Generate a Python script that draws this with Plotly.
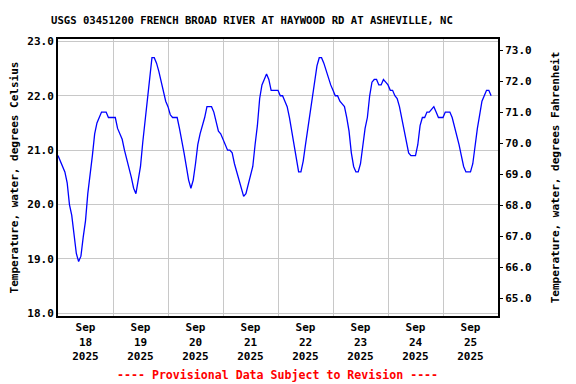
import pandas as pd
import plotly.graph_objects as go

# Hourly water temperature readings (degrees Celsius)
sep18 = [20.9, 20.8, 20.7, 20.6, 20.4, 20.0, 19.8, 19.4, 19.1, 18.95, 19.05, 19.4,
         19.7, 20.2, 20.5, 20.9, 21.3, 21.5, 21.6, 21.7, 21.7, 21.7, 21.6, 21.6]
sep19 = [21.6, 21.6, 21.4, 21.3, 21.2, 21.0, 20.85, 20.7, 20.5, 20.3, 20.2, 20.45,
         20.7, 21.15, 21.55, 21.95, 22.4, 22.7, 22.7, 22.6, 22.45, 22.25, 22.1, 21.9]
sep20 = [21.8, 21.65, 21.6, 21.6, 21.6, 21.4, 21.2, 20.95, 20.7, 20.45, 20.3, 20.45,
         20.75, 21.1, 21.3, 21.45, 21.6, 21.8, 21.8, 21.8, 21.7, 21.5, 21.35, 21.3]
sep21 = [21.2, 21.1, 21.0, 21.0, 20.95, 20.75, 20.6, 20.45, 20.25, 20.15, 20.2, 20.35,
         20.5, 20.7, 21.1, 21.45, 21.95, 22.2, 22.3, 22.4, 22.3, 22.1, 22.1, 22.1]
sep22 = [22.1, 22.0, 22.0, 21.9, 21.8, 21.6, 21.35, 21.1, 20.8, 20.6, 20.6, 20.8,
         21.1, 21.4, 21.65, 22.0, 22.3, 22.55, 22.7, 22.7, 22.6, 22.45, 22.3, 22.2]
sep23 = [22.1, 22.0, 22.0, 21.9, 21.85, 21.8, 21.6, 21.35, 20.95, 20.7, 20.6, 20.6,
         20.75, 21.1, 21.4, 21.6, 22.0, 22.25, 22.3, 22.3, 22.2, 22.2, 22.3, 22.25]
sep24 = [22.2, 22.1, 22.1, 22.0, 21.95, 21.8, 21.6, 21.4, 21.2, 20.95, 20.9, 20.9,
         20.9, 21.1, 21.45, 21.6, 21.6, 21.7, 21.7, 21.75, 21.8, 21.7, 21.6, 21.6]
sep25 = [21.6, 21.7, 21.7, 21.7, 21.6, 21.45, 21.3, 21.1, 20.9, 20.7, 20.6, 20.6,
         20.6, 20.75, 21.1, 21.4, 21.65, 21.9, 22.0, 22.1, 22.1, 22.0]

temp_c = sep18 + sep19 + sep20 + sep21 + sep22 + sep23 + sep24 + sep25
times = pd.date_range("2025-09-18 00:00", periods=len(temp_c), freq="h")
temp_f = [c * 1.8 + 32 for c in temp_c]

day_labels = ["Sep<br>18<br>2025", "Sep<br>19<br>2025", "Sep<br>20<br>2025", "Sep<br>21<br>2025",
              "Sep<br>22<br>2025", "Sep<br>23<br>2025", "Sep<br>24<br>2025", "Sep<br>25<br>2025"]
day_noons = pd.date_range("2025-09-18 12:00", periods=8, freq="D")
day_starts = pd.date_range("2025-09-18 00:00", periods=9, freq="D")

c_ticks = [18.0, 19.0, 20.0, 21.0, 22.0, 23.0]
f_ticks = [65.0, 66.0, 67.0, 68.0, 69.0, 70.0, 71.0, 72.0, 73.0]

FONT = "DejaVu Sans Mono"

fig = go.Figure()
fig.add_trace(go.Scatter(x=times, y=temp_c, mode="lines",
                         line=dict(color="#0000ff", width=1.3),
                         name="Temperature (C)", showlegend=False))
fig.add_trace(go.Scatter(x=times, y=temp_f, mode="lines", yaxis="y2",
                         line=dict(color="rgba(0,0,0,0)", width=0),
                         hoverinfo="skip", showlegend=False))

fig.update_layout(
    width=576, height=384,
    margin=dict(l=58, r=78, t=39, b=68),
    paper_bgcolor="white", plot_bgcolor="white",
    font=dict(family=FONT, size=11, color="black", weight="bold"),
    showlegend=False,
    xaxis=dict(
        range=[day_starts[0], day_starts[-1]],
        tickmode="array", tickvals=list(day_noons), ticktext=day_labels,
        ticks="", showgrid=False, zeroline=False,
        showline=True, linecolor="black", linewidth=2, mirror=True,
        tickfont=dict(family=FONT, size=11, weight="bold"),
        minor=dict(tickmode="array", tickvals=list(day_starts[1:-1]),
                   showgrid=True, gridcolor="#c8c8c8", gridwidth=1, ticks=""),
    ),
    yaxis=dict(
        range=[17.95, 23.044], tickmode="array", tickvals=c_ticks,
        tickformat=".1f", showgrid=True, gridcolor="#c8c8c8", gridwidth=1,
        zeroline=False, showline=True, linecolor="black", linewidth=2, mirror=True,
        ticks="", tickfont=dict(family=FONT, size=11, weight="bold"),
        title=dict(text="Temperature, water, degrees Celsius", standoff=6,
                   font=dict(family=FONT, size=11, weight="bold")),
    ),
    yaxis2=dict(
        range=[64.42, 73.37], overlaying="y", side="right",
        tickmode="array", tickvals=f_ticks, tickformat=".1f",
        showgrid=False, zeroline=False, ticks="outside", ticklen=4,
        tickcolor="black", tickfont=dict(family=FONT, size=11, weight="bold"),
        title=dict(text="Temperature, water, degrees Fahrenheit", standoff=20,
                   font=dict(family=FONT, size=11, weight="bold")),
    ),
)

fig.add_annotation(text="USGS 03451200 FRENCH BROAD RIVER AT HAYWOOD RD AT ASHEVILLE, NC",
                   xref="paper", yref="paper", x=0.44, y=1.0686,
                   xanchor="center", yanchor="middle", showarrow=False,
                   font=dict(family=FONT, size=10.6, color="black", weight="bold"))
fig.add_annotation(text="---- Provisional Data Subject to Revision ----",
                   xref="paper", yref="paper", x=0.498, y=-0.213,
                   xanchor="center", yanchor="middle", showarrow=False,
                   font=dict(family=FONT, size=11.6, color="#ff0000", weight="bold"))

fig.write_html("out.html", config={"displayModeBar": False},
               post_script="document.body.style.margin='0';document.body.style.overflow='hidden';")
